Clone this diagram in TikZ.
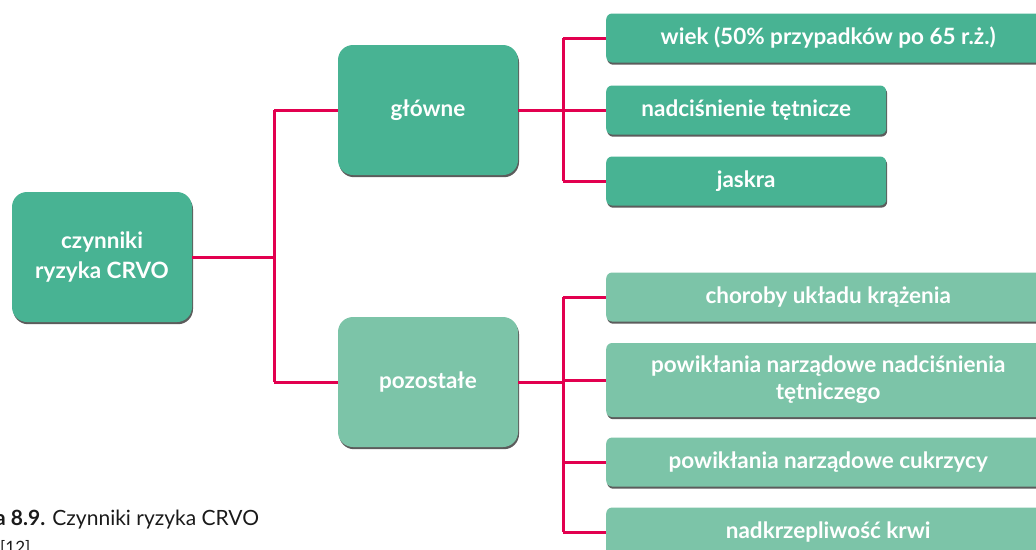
\documentclass[tikz,border=0pt]{standalone}
\usepackage{fontspec}
\setmainfont{Lato}
\usetikzlibrary{positioning, calc, shadows}
\definecolor{LeafGreen}{HTML}{48B393}
\definecolor{PaleGreen}{HTML}{7CC4A8}
\definecolor{LinkRed}{HTML}{E2004F}
\definecolor{CaptionInk}{HTML}{1A1A1A}

\begin{document}
\begin{tikzpicture}[
  x=1pt, y=-1pt,
  boxshadow/.style={drop shadow={shadow xshift=1pt, shadow yshift=-2.2pt, fill=black!75, opacity=0.85}},
  bigbox/.style={rounded corners=15pt, minimum width=180pt, minimum height=130pt,
    text=white, font=\fontsize{22.5}{30}\selectfont\bfseries, align=center, boxshadow},
  leafbox/.style={rounded corners=6pt, minimum width=280pt, minimum height=49pt,
    anchor=west, text=white, font=\fontsize{22.5}{27}\selectfont\bfseries, align=center, boxshadow},
  link/.style={LinkRed, line width=3pt},
]
  \useasboundingbox (0,0) rectangle (1036,549);
  \clip (0,0) rectangle (1036,549);

  % column positions
  \def\xroot{102}   % root centre
  \def\xmid{428}    % second level centre
  \def\xleaf{606}   % left edge of leaves
  \def\wlong{444}   % width of long leaves

  % Boxes
  \node[bigbox, fill=LeafGreen] (root) at (\xroot, 257) {czynniki\\ryzyka CRVO};
  \node[bigbox, fill=LeafGreen] (glowne) at (\xmid, 110) {główne};
  \node[bigbox, fill=PaleGreen] (pozost) at (\xmid, 382) {pozostałe};

  \node[leafbox, fill=LeafGreen, minimum width=\wlong pt] (wiek) at (\xleaf, 38) {wiek (50\% przypadków po 65 r.ż.)};
  \node[leafbox, fill=LeafGreen] (nadcis) at (\xleaf, 110) {nadciśnienie tętnicze};
  \node[leafbox, fill=LeafGreen] (jaskra) at (\xleaf, 181) {jaskra};

  \node[leafbox, fill=PaleGreen, minimum width=\wlong pt] (krazenie) at (\xleaf, 297) {choroby układu krążenia};
  \node[leafbox, fill=PaleGreen, minimum width=\wlong pt, minimum height=74pt] (powiknad) at (\xleaf, 380) {powikłania narządowe nadciśnienia\\tętniczego};
  \node[leafbox, fill=PaleGreen, minimum width=\wlong pt] (powikcuk) at (\xleaf, 462) {powikłania narządowe cukrzycy};
  \node[leafbox, fill=PaleGreen, minimum width=\wlong pt] (krew) at (\xleaf, 532) {nadkrzepliwość krwi};

  % Junction points
  \coordinate (jroot) at (274, 257);
  \coordinate (jtop) at (563, 110);
  \coordinate (jbot) at (563, 382);

  % Connectors
  \draw[link] (root.east) -- (jroot);
  \draw[link] (jroot |- glowne) -- (jroot |- pozost);
  \draw[link] (jroot |- glowne) -- (glowne.west);
  \draw[link] (jroot |- pozost) -- (pozost.west);

  \draw[link] (glowne.east) -- (jtop);
  \draw[link] (jtop |- wiek) -- (jtop |- jaskra);
  \foreach \n in {wiek, nadcis, jaskra}
    \draw[link] (jtop |- \n) -- (\n.west);

  \draw[link] (pozost.east) -- (jbot);
  \draw[link] (jbot |- krazenie) -- (jbot |- krew);
  \foreach \n in {krazenie, powiknad, powikcuk, krew}
    \draw[link] (jbot |- \n) -- (\n.west);

  % Caption
  \node[anchor=base west, inner sep=0pt, text=CaptionInk, font=\fontsize{21}{26}\selectfont] (capt) at (-5, 525)
    {\textbf{a 8.9.} Czynniki ryzyka CRVO};
  \node[anchor=north west, inner sep=0pt, text=CaptionInk, font=\fontsize{17}{20}\selectfont] (capsrc) at (0, 540) {[12]};
\end{tikzpicture}
\end{document}
